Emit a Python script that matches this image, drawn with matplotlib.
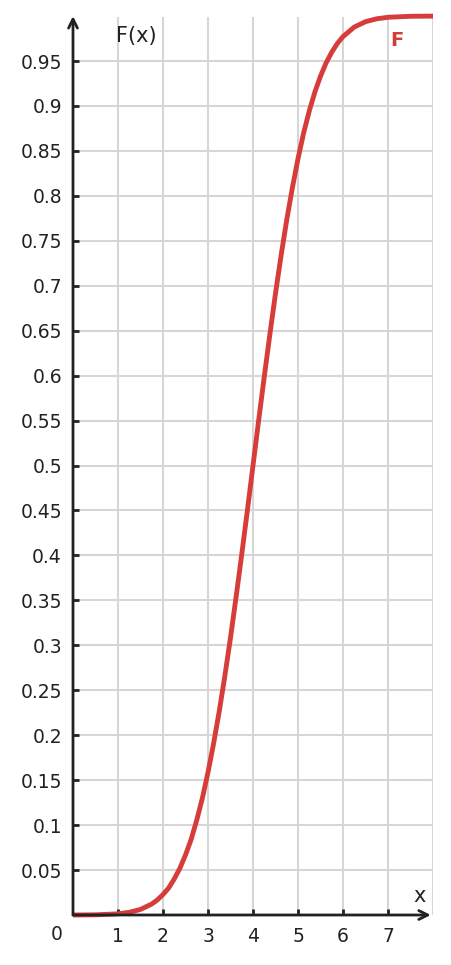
import matplotlib
matplotlib.use('Agg')
import matplotlib.pyplot as plt

# values
x_vals = [0, 0.5, 1, 1.25, 1.5, 1.75, 1.875, 2, 2.125, 2.25, 2.375, 2.5, 2.625, 2.75,
          2.875, 3, 3.125, 3.25, 3.375, 3.5, 3.625, 3.75, 3.875, 4, 4.125, 4.25,
          4.375, 4.5, 4.625, 4.75, 4.875, 5, 5.125, 5.25, 5.375, 5.5, 5.625, 5.75,
          5.875, 6, 6.25, 6.5, 6.75, 7, 7.5, 8]
f_vals = [0.0, 0.0002, 0.0013, 0.003, 0.0062, 0.0122, 0.0168, 0.0228, 0.030, 0.0401,
          0.052, 0.0668, 0.084, 0.1056, 0.130, 0.1587, 0.191, 0.2266, 0.266, 0.3085,
          0.354, 0.4013, 0.450, 0.5, 0.550, 0.5987, 0.646, 0.6915, 0.734, 0.7734,
          0.809, 0.8413, 0.870, 0.8944, 0.9155, 0.9332, 0.948, 0.9599, 0.9696,
          0.9772, 0.9878, 0.9938, 0.997, 0.9987, 0.9998, 1.0]

x_ticks = [1, 2, 3, 4, 5, 6, 7]
y_ticks = [0.05, 0.1, 0.15, 0.2, 0.25, 0.3, 0.35, 0.4, 0.45, 0.5,
           0.55, 0.6, 0.65, 0.7, 0.75, 0.8, 0.85, 0.9, 0.95]
y_tick_labels = ['0.05', '0.1', '0.15', '0.2', '0.25', '0.3', '0.35', '0.4', '0.45', '0.5',
                 '0.55', '0.6', '0.65', '0.7', '0.75', '0.8', '0.85', '0.9', '0.95']

axis_col = '#222222'
grid_col = '#d6d6d6'
curve_col = '#d63c3a'

fig = plt.figure(figsize=(4.51, 9.65), dpi=100)
ax = fig.add_axes([73 / 451, 50 / 965, 360 / 451, 898 / 965])
ax.set_xlim(0, 8)
ax.set_ylim(0, 0.999)

# grid
for xv in x_ticks + [8]:
    ax.axvline(xv, color=grid_col, lw=1.5, zorder=0)
for yv in y_ticks:
    ax.axhline(yv, color=grid_col, lw=1.5, zorder=0)

ax.plot(x_vals, f_vals, color=curve_col, lw=3.5, zorder=3, clip_on=False,
        solid_capstyle='butt', solid_joinstyle='round')

for s in ax.spines.values():
    s.set_visible(False)

# axes with arrows
ax.annotate('', xy=(7.95, 0), xytext=(0, 0), xycoords='data',
            arrowprops=dict(arrowstyle='->', color=axis_col, lw=2,
                            mutation_scale=16, shrinkA=0, shrinkB=0),
            annotation_clip=False, zorder=4)
ax.annotate('', xy=(0, 1.0), xytext=(0, 0), xycoords='data',
            arrowprops=dict(arrowstyle='->', color=axis_col, lw=2,
                            mutation_scale=16, shrinkA=0, shrinkB=0),
            annotation_clip=False, zorder=4)

ax.set_xticks(x_ticks)
ax.set_xticklabels([str(v) for v in x_ticks])
ax.set_yticks(y_ticks)
ax.set_yticklabels(y_tick_labels)
ax.tick_params(axis='both', direction='in', length=4, width=2, color=axis_col,
               labelsize=13.5, labelcolor=axis_col)
ax.tick_params(axis='x', pad=9)
ax.tick_params(axis='y', pad=8)

ax.text(-0.37, -0.022, '0', fontsize=13.5, color=axis_col, ha='center', va='center')
ax.text(1.4, 0.978, 'F(x)', fontsize=15, color=axis_col, ha='center', va='center')
ax.text(7.7, 0.021, 'x', fontsize=15, color=axis_col, ha='center', va='center')
ax.text(7.2, 0.973, 'F', fontsize=14, color=curve_col, fontweight='bold',
        ha='center', va='center')

fig.savefig('out.png', dpi=100)
